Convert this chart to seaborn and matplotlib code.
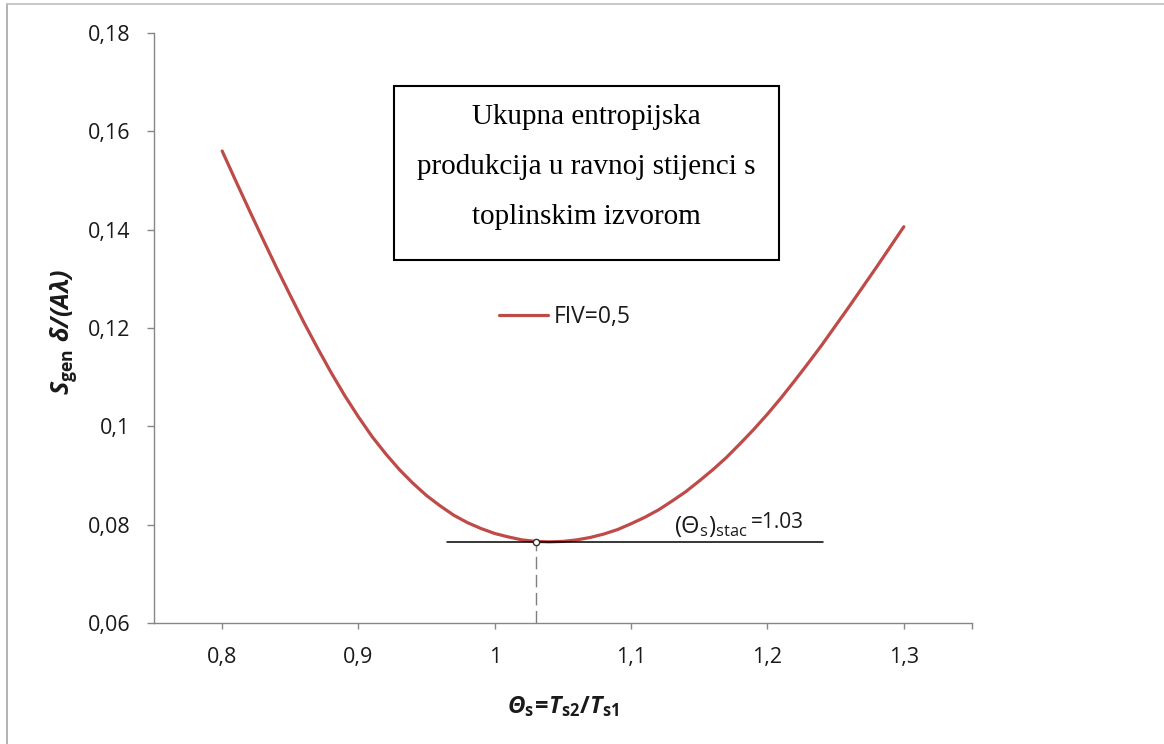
import numpy as np
import pandas as pd
import matplotlib
matplotlib.use("Agg")
import matplotlib.pyplot as plt
import seaborn as sns
from matplotlib.lines import Line2D
from matplotlib.patches import Rectangle

# Dimensionless temperature ratio and total entropy generation
theta = [0.80, 0.81, 0.82, 0.83, 0.84, 0.85, 0.86, 0.87, 0.88, 0.89,
         0.90, 0.91, 0.92, 0.93, 0.94, 0.95, 0.96, 0.97, 0.98, 0.99,
         1.00, 1.01, 1.02, 1.03, 1.04, 1.05, 1.06, 1.07, 1.08, 1.09,
         1.10, 1.11, 1.12, 1.13, 1.14, 1.15, 1.16, 1.17, 1.18, 1.19,
         1.20, 1.21, 1.22, 1.23, 1.24, 1.25, 1.26, 1.27, 1.28, 1.29, 1.30]
s_gen = [0.1560, 0.1499, 0.1439, 0.1380, 0.1322, 0.1266, 0.1211, 0.1159, 0.1109, 0.1062,
         0.1019, 0.0979, 0.0944, 0.0912, 0.0884, 0.0859, 0.0838, 0.0819, 0.0804, 0.0792,
         0.0782, 0.0775, 0.0769, 0.0766, 0.0765, 0.0766, 0.0769, 0.0774, 0.0781, 0.0790,
         0.0802, 0.0815, 0.0830, 0.0848, 0.0867, 0.0889, 0.0912, 0.0937, 0.0965, 0.0994,
         0.1025, 0.1058, 0.1093, 0.1129, 0.1166, 0.1205, 0.1244, 0.1284, 0.1324, 0.1365, 0.1406]
series_label = "FIV=0,5"

# Stationary point and the tangent drawn through it
theta_stac = 1.03
s_min = 0.0765
tangent_x = [0.965, 1.241]

x_ticks = [0.8, 0.9, 1.0, 1.1, 1.2, 1.3, 1.35]
x_tick_labels = ["0,8", "0,9", "1", "1,1", "1,2", "1,3", ""]
y_ticks = [0.06, 0.08, 0.10, 0.12, 0.14, 0.16, 0.18]
y_tick_labels = ["0,06", "0,08", "0,1", "0,12", "0,14", "0,16", "0,18"]

box_text = "Ukupna entropijska\nprodukcija u ravnoj stijenci s\ntoplinskim izvorom"

W, H = 1164, 744
RED = "#BE4B48"
AXIS_GREY = "#868686"
TEXT = "#1a1a1a"

sns.set_theme(style="white")
plt.rcParams["font.family"] = ["Open Sans", "DejaVu Sans"]
plt.rcParams["mathtext.fontset"] = "custom"
plt.rcParams["mathtext.rm"] = "Open Sans"
plt.rcParams["mathtext.it"] = "Open Sans:italic"
plt.rcParams["mathtext.bf"] = "Open Sans:bold"
plt.rcParams["mathtext.bfit"] = "Open Sans:italic:bold"
plt.rcParams["mathtext.fallback"] = "cm"

fig = plt.figure(figsize=(W / 100, H / 100), dpi=100)
fig.patch.set_facecolor("white")

# plot area in pixels: left 154, right 972, top 33, bottom 623
ax = fig.add_axes([154 / W, 1 - 623 / H, (972 - 154) / W, (623 - 33) / H])
ax.set_facecolor("white")

df = pd.DataFrame({"theta": theta, "s_gen": s_gen})
sns.lineplot(data=df, x="theta", y="s_gen", color=RED, linewidth=2.3,
             ax=ax, sort=False, legend=False)

ax.set_xlim(0.75, 1.35)
ax.set_ylim(0.06, 0.18)
ax.set_xticks(x_ticks)
ax.set_xticklabels(x_tick_labels)
ax.set_yticks(y_ticks)
ax.set_yticklabels(y_tick_labels)

for side in ("top", "right"):
    ax.spines[side].set_visible(False)
for side in ("left", "bottom"):
    ax.spines[side].set_color(AXIS_GREY)
    ax.spines[side].set_linewidth(1.0)

ax.tick_params(axis="y", direction="out", length=5, width=1, color=AXIS_GREY,
               pad=12, labelsize=15.5, labelcolor=TEXT, left=True)
ax.tick_params(axis="x", direction="out", length=4.5, width=1, color=AXIS_GREY,
               pad=13, labelsize=15.5, labelcolor=TEXT, bottom=True)

# axis titles
ax.set_ylabel(r"$\mathbfit{S}_{\mathbf{gen}}\ \mathbfit{δ/(Aλ)}$", fontsize=18, color=TEXT)
ax.yaxis.set_label_coords((63 - 154) / (972 - 154), (623 - 332) / (623 - 33))
ax.yaxis.label.set_va("center")
ax.set_xlabel(r"$\mathbfit{Θ}_{\mathbf{s}}\!\mathbf{=}\!\mathbfit{T}_{\mathbf{s2}}\mathbf{/}\mathbfit{T}_{\mathbf{s1}}$",
              fontsize=17, color=TEXT)
ax.xaxis.set_label_coords((563 - 154) / (972 - 154), -(707 - 623) / (623 - 33))
ax.xaxis.label.set_va("center")

# tangent at the minimum, drop line and marker
ax.plot(tangent_x, [s_min, s_min], color="black", linewidth=1.1, zorder=3)
ax.plot([theta_stac, theta_stac], [0.06, s_min], color="#7f7f7f", linewidth=1.0,
        dashes=(9, 4), zorder=2)
ax.plot([theta_stac], [s_min], marker="o", markersize=4.5, markerfacecolor="white",
        markeredgecolor="#333333", markeredgewidth=1.0, zorder=5)

t1 = ax.annotate(r"$(\mathit{Θ}_{\mathrm{s}})_{\mathrm{stac}}$",
                 xy=(1.1316, s_min), xytext=(0, 3), textcoords="offset pixels",
                 fontsize=17, color=TEXT, ha="left", va="bottom")
ax.annotate(f"={theta_stac:.2f}", xy=(1, 0), xycoords=t1, xytext=(3, 6),
            textcoords="offset pixels", fontsize=15, color=TEXT,
            ha="left", va="bottom")

# legend
handle = Line2D([], [], color=RED, linewidth=2.3)
ax.legend([handle], [series_label], loc="center left",
          bbox_to_anchor=(499 / W, 1 - 317 / H), bbox_transform=fig.transFigure,
          frameon=False, borderpad=0, borderaxespad=0, handlelength=2.15,
          handletextpad=0.25, fontsize=16.5, labelcolor=TEXT)

# title text box
fig.add_artist(Rectangle((394 / W, 1 - 260 / H), (779 - 394) / W, (260 - 86) / H,
                         transform=fig.transFigure, fill=False, edgecolor="black",
                         linewidth=1.5, zorder=10))
fig.text(586.5 / W, 1 - 167 / H, box_text, ha="center", va="center",
         family=["Liberation Serif", "DejaVu Serif"], fontsize=21,
         linespacing=2.2, color="black")

# chart area border
fig.add_artist(Line2D([7 / W, 7 / W], [0, 1 - 4 / H], transform=fig.transFigure,
                      color="#A6A6A6", linewidth=1.2))
fig.add_artist(Line2D([7 / W, 1], [1 - 4 / H, 1 - 4 / H], transform=fig.transFigure,
                      color="#BFBFBF", linewidth=1.2))

fig.savefig("out.png", dpi=100, facecolor="white")
